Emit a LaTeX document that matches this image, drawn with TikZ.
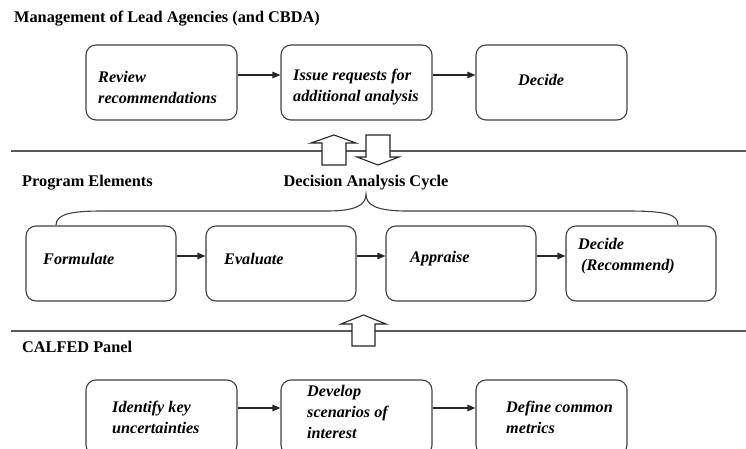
\documentclass[tikz,border=0pt]{standalone}
\usepackage{fontspec}
\setmainfont{Liberation Serif}
\usetikzlibrary{arrows.meta}
\begin{document}
\begin{tikzpicture}[x=1pt,y=-1pt,
 box/.style={draw=black!75, line width=1.1pt, rounded corners=10pt, minimum width=151pt, minimum height=75pt, inner sep=0pt},
 lbl/.style={anchor=west, align=left, inner sep=0pt, font=\fontsize{16.2}{21}\selectfont\bfseries\itshape},
 hdr/.style={anchor=west, inner sep=0pt, font=\fontsize{16.3}{18}\selectfont\bfseries},
 arr/.style={-{Triangle[length=8pt,width=6.5pt]}, line width=1.1pt, black!85},
 sepline/.style={draw=black!65, line width=1.6pt},
 block/.style={draw=black!85, line width=1.1pt, fill=white},
 bracestyle/.style={draw=black!75, line width=1.1pt}]
\useasboundingbox (0,0) rectangle (746,449);
\clip (0,0) rectangle (746,449);

% headings
\node[hdr] (h1) at (14,19) {Management of Lead Agencies (and CBDA)};
\node[hdr] (h2) at (22,183) {Program Elements};
\node[hdr, anchor=center] (h3) at (366,183) {Decision Analysis Cycle};
\node[hdr] (h4) at (22,347) {CALFED Panel};

% separator lines
\coordinate (l1a) at (11,151); \coordinate (l1b) at (746,151);
\coordinate (l2a) at (11,331); \coordinate (l2b) at (746,331);
\draw[sepline] (l1a) -- (l1b);
\draw[sepline] (l2a) -- (l2b);

% top row
\node[box] (t1) at (161.5,82.5) {};
\node[box] (t2) at (356.5,82.5) {};
\node[box] (t3) at (551.5,82.5) {};
\node[lbl] (t1l) at (98,87.5) {Review\\recommendations};
\node[lbl] (t2l) at (293,87.5) {Issue requests for\\additional analysis};
\node[lbl] (t3l) at (518,80) {Decide};
\draw[arr] ([yshift=7.5pt]t1.east) -- ([yshift=7.5pt]t2.west);
\draw[arr] ([yshift=7.5pt]t2.east) -- ([yshift=7.5pt]t3.west);

% middle row
\node[box, minimum width=150pt] (m1) at (101,263.5) {};
\node[box, minimum width=150pt] (m2) at (281,263.5) {};
\node[box, minimum width=150pt] (m3) at (461,263.5) {};
\node[box, minimum width=150pt] (m4) at (641,263.5) {};
\node[lbl] (m1l) at (43,259) {Formulate};
\node[lbl] (m2l) at (224,259) {Evaluate};
\node[lbl] (m3l) at (410,259) {Appraise};
\node[lbl] (m4l) at (578,256) {Decide\\\hspace{3pt}(Recommend)};
\draw[arr] ([yshift=7.5pt]m1.east) -- ([yshift=7.5pt]m2.west);
\draw[arr] ([yshift=7.5pt]m2.east) -- ([yshift=7.5pt]m3.west);
\draw[arr] ([yshift=7.5pt]m3.east) -- ([yshift=7.5pt]m4.west);

% brace
\draw[bracestyle] (56,225) .. controls (56,213) and (75,211) .. (103,211)
  -- (327,211) .. controls (356,211) and (366,205) .. (366,194)
  .. controls (366,205) and (376,211) .. (407,211)
  -- (627,211) .. controls (665,211) and (678,214) .. (678,225);

% bottom row
\node[box] (b1) at (161.5,417.5) {};
\node[box] (b2) at (356.5,417.5) {};
\node[box] (b3) at (551.5,417.5) {};
\node[lbl] (b1l) at (112,417.5) {Identify key\\uncertainties};
\node[lbl] (b2l) at (307,411.5) {Develop\\scenarios of\\interest};
\node[lbl] (b3l) at (506,417.5) {Define common\\metrics};
\draw[arr] ([yshift=9.5pt]b1.east) -- ([yshift=9.5pt]b2.west);
\draw[arr] ([yshift=9.5pt]b2.east) -- ([yshift=9.5pt]b3.west);

% hollow block arrows
\draw[block] (322,165) -- (322,143) -- (311,143) -- (334,135) -- (356,143) -- (346,143) -- (346,165) -- cycle;
\draw[block] (366,135) -- (390,135) -- (390,157) -- (399,157) -- (378,165) -- (357,157) -- (366,157) -- cycle;
\draw[block] (352,346) -- (352,324) -- (341,324) -- (363.5,315) -- (386,324) -- (375,324) -- (375,346) -- cycle;
\end{tikzpicture}
\end{document}
